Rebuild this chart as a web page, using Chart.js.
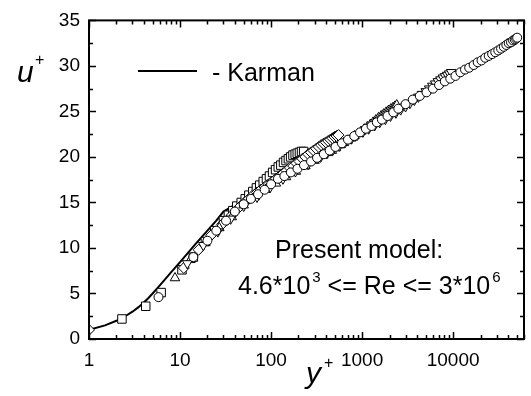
<!DOCTYPE html>
<html>
<head>
<meta charset="utf-8">
<script src="https://cdn.jsdelivr.net/npm/chart.js@4.4.0/dist/chart.umd.min.js"></script>
<style>
    html, body { margin: 0; padding: 0; background: #fff; }
</style>
</head>
<body>
<canvas id="profileChart" width="531" height="396"></canvas>
<script>
// Velocity profiles u+ vs y+ (log x axis)

// Karman law of the wall (solid line)
const karmanY = [1, 1.5, 2, 2.5, 3, 3.5, 4, 4.5, 5, 6, 8, 10, 15, 20, 25, 30, 50, 100, 300, 1000, 3000, 10000, 30000, 50000];
const karmanU = [1, 1.5, 2, 2.5, 3, 3.5, 4, 4.5, 5, 5.9, 7.35, 8.45, 10.5, 11.9, 13.0, 14.0, 15.3, 17.0, 19.8, 22.8, 25.5, 28.5, 31.3, 32.5];

// Present model, several Reynolds numbers
const squareY = [2.3, 4.2, 6.2, 10.5, 14, 19, 24, 30, 34, 38, 42, 47, 52, 57, 63, 69, 75, 82, 89, 96, 104, 112, 120, 128, 137, 146, 155, 164, 174, 184, 194, 205, 216, 228];
const squareU = [2.2, 3.6, 5.1, 7.6, 9.0, 10.7, 11.9, 13.0, 13.6, 14.1, 14.6, 15.0, 15.4, 15.8, 16.2, 16.6, 16.9, 17.3, 17.6, 17.9, 18.3, 18.6, 18.9, 19.1, 19.4, 19.6, 19.8, 20.0, 20.2, 20.3, 20.4, 20.5, 20.6, 20.6];

const diamondY = [1, 11, 16, 22, 29, 37, 41, 46, 51, 57, 63, 70, 77, 85, 94, 103, 113, 124, 136, 148, 161, 175, 190, 205, 221, 238, 256, 274, 293, 313, 334, 355, 377, 400, 424, 448, 473, 498, 524, 550];
const diamondU = [1.0, 7.8, 9.8, 11.4, 12.6, 13.6, 14.1, 14.6, 15.0, 15.4, 15.8, 16.1, 16.4, 16.7, 17.0, 17.3, 17.6, 17.9, 18.2, 18.5, 18.8, 19.0, 19.3, 19.5, 19.8, 20.0, 20.3, 20.5, 20.7, 20.9, 21.1, 21.3, 21.45, 21.6, 21.75, 21.9, 22.05, 22.2, 22.3, 22.4];

const triangleY = [8.8, 13, 19, 27, 37, 50, 66, 87, 113, 146, 187, 238, 300, 375, 420, 465, 515, 570, 630, 690, 760, 825, 900, 975, 1055, 1140, 1230, 1320, 1415, 1515, 1620, 1725, 1835, 1950, 2065, 2180, 2290, 2400];
const triangleU = [6.7, 8.7, 10.6, 12.2, 13.4, 14.7, 15.6, 16.4, 17.1, 17.8, 18.4, 19.0, 19.6, 20.2, 20.45, 20.7, 21.0, 21.3, 21.55, 21.8, 22.05, 22.3, 22.55, 22.8, 23.05, 23.3, 23.55, 23.8, 24.05, 24.3, 24.5, 24.7, 24.9, 25.1, 25.25, 25.4, 25.55, 25.7];

const downTriY = [12, 18, 26, 36, 50, 70, 98, 135, 185, 255, 350, 410, 480, 560, 650, 760, 880, 1020, 1180, 1370, 1560, 1800, 2050, 2350, 2650, 3000, 3350, 3750, 4150, 4550, 5000, 5450, 5900, 6350, 6800, 7250, 7700, 8150, 8600, 9050, 9500];
const downTriU = [8.3, 10.3, 11.8, 13.2, 14.6, 15.6, 16.7, 17.6, 18.4, 19.2, 20.0, 20.4, 20.8, 21.2, 21.6, 22.0, 22.4, 22.75, 23.1, 23.45, 23.8, 24.15, 24.5, 24.85, 25.2, 25.55, 25.9, 26.25, 26.6, 26.9, 27.2, 27.5, 27.8, 28.05, 28.3, 28.5, 28.7, 28.85, 29.0, 29.15, 29.3];

const circleY = [5.8, 14, 20, 25, 32, 40, 50, 60, 72, 85, 100, 119, 140, 165, 195, 230, 275, 320, 380, 440, 510, 600, 700, 820, 950, 1100, 1270, 1450, 1650, 1900, 2200, 2500, 3000, 3600, 4300, 5100, 6000, 7000, 8100, 9300, 10600, 12000, 13500, 15000, 16800, 18600, 20500, 22500, 24600, 26800, 29000, 31300, 33600, 36000, 38400, 40800, 43200, 45500, 47500, 49200, 50500];
const circleU = [4.6, 9.0, 10.8, 11.9, 13.0, 14.0, 14.8, 15.4, 15.9, 16.4, 17.0, 17.6, 17.9, 18.3, 18.7, 19.1, 19.5, 19.9, 20.3, 20.7, 21.1, 21.5, 21.9, 22.3, 22.7, 23.1, 23.4, 23.8, 24.1, 24.5, 24.9, 25.3, 25.8, 26.3, 26.7, 27.1, 27.5, 27.9, 28.3, 28.6, 28.9, 29.3, 29.6, 29.8, 30.1, 30.4, 30.6, 30.9, 31.1, 31.3, 31.5, 31.7, 31.9, 32.1, 32.3, 32.5, 32.6, 32.8, 32.9, 33.0, 33.1];

// Axis ticks
const xTickValues = [1, 10, 100, 1000, 10000];
const yTickValues = [0, 5, 10, 15, 20, 25, 30, 35];

const FONT = "'Liberation Sans', Arial, sans-serif";

function toPoints(xs, ys) {
    return xs.map((v, i) => ({ x: v, y: ys[i] }));
}

function markerSet(xs, ys, style, radius, rotation) {
    return {
        data: toPoints(xs, ys),
        showLine: false,
        pointStyle: style,
        pointRadius: radius,
        pointRotation: rotation || 0,
        pointBackgroundColor: '#ffffff',
        pointBorderColor: '#000000',
        pointBorderWidth: 1,
        order: 1
    };
}

// Frame, inward ticks, axis titles and texts
const decorPlugin = {
    id: 'decor',
    afterDraw(chart) {
        const { ctx, chartArea: a, scales } = chart;
        const xs = scales.x, ys = scales.y;
        ctx.save();
        ctx.strokeStyle = '#000';
        ctx.fillStyle = '#000';

        // ticks on all four sides
        ctx.lineWidth = 1.5;
        ctx.beginPath();
        for (const d of xTickValues) {
            for (let m = 1; m <= 9; m++) {
                const v = d * m;
                if (v > xs.max) break;
                const px = Math.round(xs.getPixelForValue(v)) + 0.5;
                const len = m === 1 ? 7 : 4;
                ctx.moveTo(px, a.bottom); ctx.lineTo(px, a.bottom - len);
                ctx.moveTo(px, a.top); ctx.lineTo(px, a.top + len);
            }
        }
        for (let v = 0; v <= 35; v += 2.5) {
            const py = Math.round(ys.getPixelForValue(v)) + 0.5;
            const len = v % 5 === 0 ? 7 : 4;
            ctx.moveTo(a.left, py); ctx.lineTo(a.left + len, py);
            ctx.moveTo(a.right, py); ctx.lineTo(a.right - len, py);
        }
        ctx.stroke();

        // frame
        ctx.lineWidth = 2;
        ctx.strokeRect(a.left, a.top, a.right - a.left, a.bottom - a.top);

        // axis titles
        ctx.textBaseline = 'alphabetic';
        ctx.textAlign = 'left';
        ctx.font = 'italic 30px ' + FONT;
        ctx.fillText('u', 17, 82);
        ctx.fillText('y', 306, 383);
        ctx.font = '16px ' + FONT;
        ctx.fillText('+', 35, 65);
        ctx.fillText('+', 324, 368);

        // legend
        ctx.lineWidth = 2;
        ctx.beginPath();
        ctx.moveTo(138, 71);
        ctx.lineTo(197, 71);
        ctx.stroke();
        ctx.font = '25px ' + FONT;
        ctx.fillText('- Karman', 212, 81);

        // annotation
        ctx.fillText('Present model:', 275, 258);
        let x = 238;
        const base = 294;
        const parts = [['4.6*10', false], ['3', true], [' <= Re <= 3*10', false], ['6', true]];
        for (const [t, sup] of parts) {
            ctx.font = (sup ? '15px ' : '25px ') + FONT;
            ctx.fillText(t, x + (sup ? 2 : 0), sup ? base - 12 : base);
            x += ctx.measureText(t).width + (sup ? 2 : 0);
        }
        ctx.restore();
    }
};

new Chart(document.getElementById('profileChart'), {
    type: 'scatter',
    data: {
        datasets: [
            markerSet(circleY, circleU, 'circle', 4.5),
            markerSet(downTriY, downTriU, 'triangle', 5.5, 180),
            markerSet(triangleY, triangleU, 'triangle', 5.5),
            markerSet(diamondY, diamondU, 'rectRot', 5.5),
            markerSet(squareY, squareU, 'rect', 6),
            {
                data: toPoints(karmanY, karmanU),
                showLine: true,
                borderColor: '#000',
                borderWidth: 2,
                pointRadius: 0,
                tension: 0,
                order: 2
            }
        ]
    },
    options: {
        responsive: false,
        animation: false,
        layout: { padding: { top: 14, right: 3, left: 0, bottom: 0 } },
        plugins: {
            legend: { display: false },
            tooltip: { enabled: false }
        },
        scales: {
            x: {
                type: 'logarithmic',
                min: 1,
                max: 60000,
                afterBuildTicks: s => { s.ticks = xTickValues.map(v => ({ value: v })); },
                afterFit: s => { s.height = 57; },
                grid: { display: false, drawTicks: false },
                border: { display: false },
                ticks: {
                    color: '#000',
                    font: { family: FONT, size: 19 },
                    padding: 10,
                    maxRotation: 0,
                    autoSkip: false,
                    callback: v => String(v)
                }
            },
            y: {
                type: 'linear',
                min: 0,
                max: 35,
                afterBuildTicks: s => { s.ticks = yTickValues.map(v => ({ value: v })); },
                afterFit: s => { s.width = 89; },
                grid: { display: false, drawTicks: false },
                border: { display: false },
                ticks: {
                    color: '#000',
                    font: { family: FONT, size: 19 },
                    padding: 9
                }
            }
        }
    },
    plugins: [decorPlugin]
});
</script>
</body>
</html>
